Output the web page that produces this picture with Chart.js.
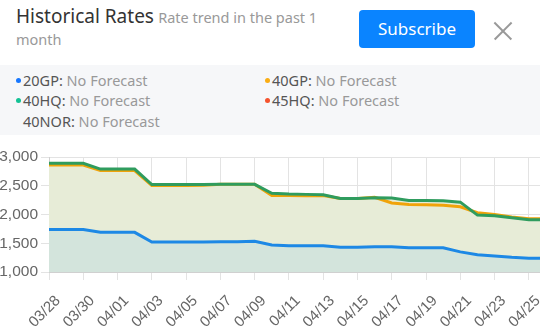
<!DOCTYPE html>
<html>
<head>
<meta charset="utf-8">
<script src="https://cdn.jsdelivr.net/npm/chart.js@4"></script>
<style>
  html, body { margin: 0; padding: 0; background: #fff; overflow: hidden; }
  body { width: 540px; height: 326px; position: relative; font-family: "Noto Sans", "Open Sans", sans-serif; }
  .head { position: absolute; left: 16px; top: 5px; width: 330px; line-height: 22px; }
  .title { font-size: 19px; color: #333; }
  .sub { font-size: 14.5px; color: #999; }
  .btn { position: absolute; left: 359px; top: 10px; width: 116px; height: 38px; background: #0a84ff; border-radius: 4px;
         color: #fff; font-size: 17px; line-height: 38px; text-align: center; }
  .close { position: absolute; left: 494px; top: 22px; width: 18px; height: 18px; }
  .close::before, .close::after { content: ""; position: absolute; left: -3px; top: 8px; width: 24px; height: 1.6px; background: #999; }
  .close::before { transform: rotate(45deg); }
  .close::after { transform: rotate(-45deg); }
  .legend { position: absolute; left: 0; top: 65px; width: 540px; height: 70px; background: #f6f7f9; font-size: 14.5px; }
  .item { position: absolute; line-height: 20px; color: #555; white-space: nowrap; }
  .item span { color: #999; }
  .dot { position: absolute; left: -7px; top: 8px; width: 5px; height: 5px; border-radius: 50%; }
  .wrap { position: absolute; left: -4px; top: 140px; width: 564px; height: 186px; }
</style>
</head>
<body>
<div class="head"><span class="title">Historical Rates</span> <span class="sub">Rate trend in the past 1 month</span></div>
<div class="btn">Subscribe</div>
<div class="close"></div>
<div class="legend" id="legend"></div>
<div class="wrap"><canvas id="rateChart"></canvas></div>
<script>
const dates = ['03/28', '03/29', '03/30', '03/31', '04/01', '04/02', '04/03', '04/04', '04/05', '04/06',
  '04/07', '04/08', '04/09', '04/10', '04/11', '04/12', '04/13', '04/14', '04/15', '04/16',
  '04/17', '04/18', '04/19', '04/20', '04/21', '04/22', '04/23', '04/24', '04/25', '04/26'];
const rate20GP = [1740, 1740, 1740, 1690, 1690, 1690, 1520, 1520, 1520, 1520, 1525, 1525, 1535, 1470, 1455,
  1455, 1455, 1430, 1430, 1440, 1440, 1420, 1420, 1420, 1350, 1300, 1280, 1255, 1240, 1240];
const rate40GP = [2860, 2860, 2860, 2765, 2765, 2765, 2505, 2505, 2505, 2510, 2525, 2525, 2525, 2330, 2330,
  2325, 2330, 2280, 2280, 2300, 2200, 2175, 2170, 2160, 2135, 2030, 2000, 1955, 1925, 1925];
const rate40HQ = [2890, 2890, 2890, 2790, 2790, 2790, 2520, 2520, 2520, 2520, 2525, 2525, 2525, 2370, 2355,
  2350, 2345, 2280, 2280, 2290, 2285, 2245, 2245, 2240, 2215, 1990, 1980, 1945, 1910, 1910];
const yTicks = [1000, 1500, 2000, 2500, 3000];

const legendItems = [
  { name: '20GP', color: '#1677ff', x: 23, y: 5 },
  { name: '40GP', color: '#faad14', x: 272, y: 5 },
  { name: '40HQ', color: '#13c295', x: 23, y: 25 },
  { name: '45HQ', color: '#f5532d', x: 272, y: 25 },
  { name: '40NOR', color: null, x: 23, y: 46 },
];
const legend = document.getElementById('legend');
legendItems.forEach(it => {
  const el = document.createElement('div');
  el.className = 'item';
  el.style.left = it.x + 'px';
  el.style.top = it.y + 'px';
  el.innerHTML = (it.color ? '<i class="dot" style="background:' + it.color + '"></i>' : '') +
    it.name + ': <span>No Forecast</span>';
  legend.appendChild(el);
});

new Chart(document.getElementById('rateChart'), {
  type: 'line',
  data: {
    labels: dates,
    datasets: [
      { label: '20GP', data: rate20GP, borderColor: '#1d88e5', backgroundColor: '#d3e4dc', fill: 'start', borderWidth: 3 },
      { label: '40HQ', data: rate40HQ, borderColor: '#2f9c5e', backgroundColor: '#e7ecd7', fill: 'start', borderWidth: 3 },
      { label: '40GP', data: rate40GP, borderColor: '#f0a30a', fill: false, borderWidth: 3 },
    ],
  },
  options: {
    responsive: true,
    maintainAspectRatio: false,
    animation: false,
    layout: { padding: { top: 17, right: 14, bottom: 0, left: 0 } },
    elements: { point: { radius: 0 }, line: { tension: 0 } },
    plugins: {
      legend: { display: false },
      tooltip: { enabled: false },
      filler: { drawTime: 'beforeDatasetsDraw' },
    },
    scales: {
      x: {
        grid: {
          color: ctx => (ctx.index % 2 === 0 ? '#e3e3e3' : 'rgba(0,0,0,0)'),
          tickLength: 8,
        },
        border: { color: '#d0d0d0' },
        ticks: {
          autoSkip: false,
          maxRotation: 45,
          minRotation: 45,
          padding: 12,
          labelOffset: 9,
          color: '#666',
          font: { size: 15, family: 'Liberation Sans, Arial, sans-serif' },
          callback: (v, i) => (i % 2 === 0 ? dates[i] : ''),
        },
        afterFit: s => { s.height = 54; s.paddingLeft = 0; s.paddingRight = 0; },
      },
      y: {
        min: 1000,
        max: 3000,
        afterBuildTicks: s => { s.ticks = yTicks.map(v => ({ value: v })); },
        grid: { color: '#e3e3e3', tickLength: 8 },
        border: { color: '#d0d0d0' },
        ticks: {
          color: '#666',
          padding: 3,
          font: { size: 15.5, family: 'Liberation Sans, Arial, sans-serif' },
        },
        afterFit: s => { s.width = 53; },
      },
    },
  },
});
</script>
</body>
</html>
